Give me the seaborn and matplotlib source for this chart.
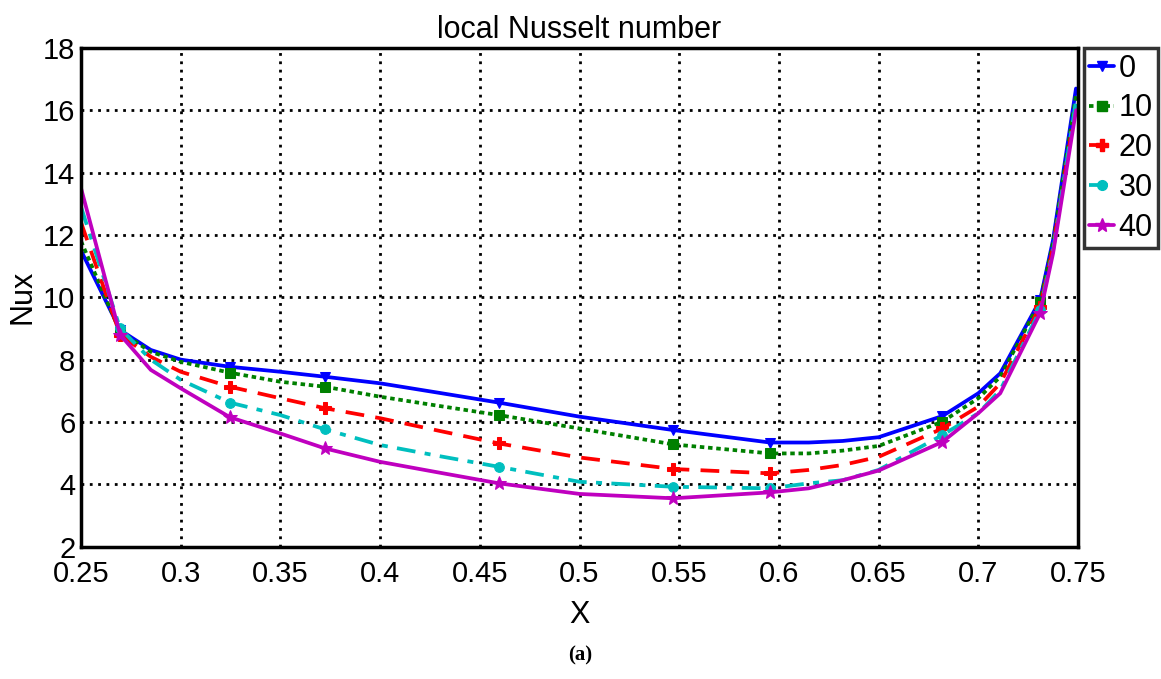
import numpy as np
import pandas as pd
import matplotlib
matplotlib.use("Agg")
import matplotlib.pyplot as plt
from matplotlib.lines import Line2D
import seaborn as sns

# ---- data ----
x_vals = [0.25, 0.2696, 0.285, 0.30, 0.3247, 0.35, 0.3724, 0.40, 0.43, 0.4596,
          0.50, 0.547, 0.5955, 0.615, 0.632, 0.65, 0.682, 0.70, 0.711, 0.731,
          0.7375, 0.749]
nu_0 = [11.5, 8.95, 8.31, 8.00, 7.77, 7.61, 7.45, 7.24, 6.93, 6.62,
        6.17, 5.74, 5.34, 5.34, 5.39, 5.51, 6.19, 6.92, 7.56, 9.91, 11.84, 16.7]
nu_10 = [11.8, 8.9, 8.25, 7.93, 7.58, 7.29, 7.13, 6.81, 6.51, 6.22,
         5.79, 5.28, 4.99, 4.99, 5.08, 5.23, 6.01, 6.76, 7.45, 9.86, 11.75, 16.5]
nu_20 = [12.4, 8.8, 8.09, 7.61, 7.13, 6.76, 6.44, 6.12, 5.71, 5.31,
         4.86, 4.49, 4.35, 4.46, 4.62, 4.88, 5.79, 6.49, 7.24, 9.70, 11.6, 16.2]
nu_30 = [12.9, 9.0, 8.00, 7.35, 6.62, 6.22, 5.76, 5.26, 4.90, 4.56,
         4.08, 3.92, 3.87, 4.03, 4.13, 4.46, 5.58, 6.28, 7.02, 9.59, 11.5, 16.3]
nu_40 = [13.5, 8.8, 7.67, 7.08, 6.15, 5.63, 5.15, 4.72, 4.37, 4.03,
         3.69, 3.55, 3.74, 3.87, 4.13, 4.44, 5.36, 6.28, 6.92, 9.49, 11.41, 16.0]
series_labels = ["0", "10", "20", "30", "40"]
marker_idx = [1, 4, 6, 9, 11, 12, 16, 19]
x_ticks = [0.25, 0.3, 0.35, 0.4, 0.45, 0.5, 0.55, 0.6, 0.65, 0.7, 0.75]
x_ticklabels = ["0.25", "0.3", "0.35", "0.4", "0.45", "0.5", "0.55", "0.6", "0.65", "0.7", "0.75"]
y_ticks = [2, 4, 6, 8, 10, 12, 14, 16, 18]

sns.set_style("white")
plt.rcParams['font.family'] = ['Liberation Sans', 'DejaVu Sans']
plt.rcParams['text.color'] = 'black'
plt.rcParams['axes.labelcolor'] = 'black'

fig = plt.figure(figsize=(11.61, 6.79), dpi=100)
ax = fig.add_axes([0.0698, 0.195, 0.8587, 0.7343])

styles = [
    dict(color="#0000ff", marker="v", ms=7, dashes=None),
    dict(color="#008000", marker="s", ms=7, dashes=(1.2, 1.0)),
    dict(color="#ff0000", marker="P", ms=8, dashes=(5, 3)),
    dict(color="#00bfbf", marker="o", ms=7, dashes=(5, 2.5, 1.6, 2.5)),
    dict(color="#bf00bf", marker="*", ms=10, dashes=None),
]
all_y = [nu_0, nu_10, nu_20, nu_30, nu_40]
proxies = []
for lab, yv, st in zip(series_labels, all_y, styles):
    df = pd.DataFrame({"X": x_vals, "Nux": yv})
    kw = dict(color=st["color"], linewidth=2.7, marker=st["marker"],
              markersize=st["ms"], markevery=marker_idx,
              markeredgecolor=st["color"], markerfacecolor=st["color"])
    sns.lineplot(data=df, x="X", y="Nux", ax=ax, sort=False, legend=False, **kw)
    line = ax.lines[-1]
    if st["dashes"] is not None:
        line.set_dashes(st["dashes"])
    p = Line2D([], [], color=st["color"], linewidth=2.7, marker=st["marker"],
               markersize=st["ms"], markeredgecolor=st["color"],
               markerfacecolor=st["color"])
    if st["dashes"] is not None:
        p.set_dashes(st["dashes"])
    proxies.append(p)

ax.set_xlim(0.25, 0.75)
ax.set_ylim(2, 18)
ax.set_xticks(x_ticks)
ax.set_xticklabels(x_ticklabels)
ax.set_yticks(y_ticks)
ax.tick_params(axis="both", labelsize=21, direction="in", length=5, width=1.5,
               colors="black")
ax.tick_params(axis="x", pad=10)
ax.tick_params(axis="y", pad=4)
ax.grid(True, color="black", linestyle=(0, (1, 2)), linewidth=2.0)
for sp in ax.spines.values():
    sp.set_visible(True)
    sp.set_color("black")
    sp.set_linewidth(2.5)

ax.set_title("local Nusselt number", fontsize=22, color="black", pad=7)
ax.set_xlabel("X", fontsize=22, labelpad=8)
ax.set_ylabel("Nux", fontsize=22, labelpad=4)

leg = ax.legend(proxies, series_labels, loc="upper left", bbox_to_anchor=(1.006, 1.0),
                fontsize=22, frameon=True, fancybox=False, handlelength=0.8,
                handletextpad=0.15, borderpad=0.18, labelspacing=0.32,
                borderaxespad=0, numpoints=1)
leg.get_frame().set_edgecolor("black")
leg.get_frame().set_linewidth(2.5)

fig.text(0.5, 0.035, "(a)", ha="center", va="center", fontsize=15,
         family=["Liberation Serif"], fontweight="bold")

fig.savefig("out.png", dpi=100)
